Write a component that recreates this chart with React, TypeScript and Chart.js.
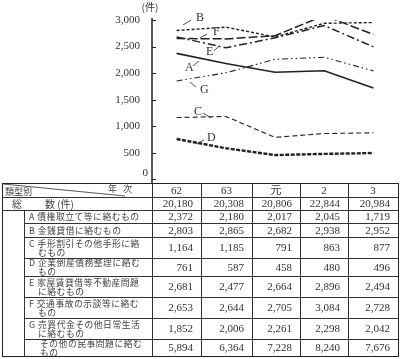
import React, { useEffect, useRef } from 'react';
import { Chart, registerables } from 'chart.js';
Chart.register(...registerables);

const years = ['62', '63', '元', '2', '3'];
const totals = [20180, 20308, 20806, 22844, 20984];
const seriesA = [2372, 2180, 2017, 2045, 1719];
const seriesB = [2803, 2865, 2682, 2938, 2952];
const seriesC = [1164, 1185, 791, 863, 877];
const seriesD = [761, 587, 458, 480, 496];
const seriesE = [2681, 2477, 2664, 2896, 2494];
const seriesF = [2653, 2644, 2705, 3084, 2728];
const seriesG = [1852, 2006, 2261, 2298, 2042];
const others = [5894, 6364, 7228, 8240, 7676];
const yTicks = [0, 500, 1000, 1500, 2000, 2500, 3000];

const rowLabels: string[][] = [
  ['A 債権取立て等に絡むもの'],
  ['B 金銭貸借に絡むもの'],
  ['C 手形割引その他手形に絡', 'むもの'],
  ['D 企業倒産債務整理に絡む', 'もの'],
  ['E 家屋賃貸借等不動産問題', 'に絡むもの'],
  ['F 交通事故の示談等に絡む', 'もの'],
  ['G 売買代金その他日常生活', 'に絡むもの'],
  ['その他の民事問題に絡む', 'もの'],
];
const rowValues = [seriesA, seriesB, seriesC, seriesD, seriesE, seriesF, seriesG, others];

const INK = '#222';
const SERIF = '"Liberation Serif", "DejaVu Serif", serif';
const CJK = '"Noto Sans CJK JP", "Noto Sans CJK SC", sans-serif';

const labelNotes = [
  { t: 'B', x: 196, y: 18, l: [191, 20, 183, 25] },
  { t: 'F', x: 213, y: 32, l: [207, 34, 200, 38] },
  { t: 'E', x: 206, y: 52, l: [214, 51, 219, 46] },
  { t: 'A', x: 185, y: 68, l: [193, 66, 199, 61] },
  { t: 'G', x: 200, y: 90, l: [196, 87, 190, 82] },
  { t: 'C', x: 194, y: 112, l: [203, 113, 211, 118] },
  { t: 'D', x: 207, y: 138, l: [204, 140, 196, 144] },
];

const decorPlugin = {
  id: 'decor',
  afterDraw(chart: any) {
    const ctx = chart.ctx;
    const ys = chart.scales.y;
    const left = chart.chartArea.left;
    ctx.save();
    ctx.strokeStyle = INK;
    ctx.lineWidth = 1.5;
    ctx.beginPath();
    ctx.moveTo(left, ys.getPixelForValue(3000) - 2);
    ctx.lineTo(left, chart.height);
    ctx.stroke();
    ctx.lineWidth = 1;
    yTicks.forEach((v) => {
      const y = Math.round(ys.getPixelForValue(v)) + 0.5;
      ctx.beginPath();
      ctx.moveTo(left, y);
      ctx.lineTo(left + 4, y);
      ctx.stroke();
    });
    ctx.fillStyle = '#333';
    ctx.font = `11px ${SERIF}`;
    ctx.textAlign = 'right';
    ctx.textBaseline = 'middle';
    ctx.fillText(String(yTicks[0]), left - 4, ys.getPixelForValue(yTicks[0]) - 6);
    ctx.font = `10px ${CJK}`;
    ctx.textAlign = 'center';
    ctx.fillText('(件)', left - 2, 7);
    ctx.font = `12px ${SERIF}`;
    ctx.textAlign = 'left';
    labelNotes.forEach((n) => {
      ctx.fillText(n.t, n.x, n.y);
      ctx.lineWidth = 0.8;
      ctx.beginPath();
      ctx.moveTo(n.l[0], n.l[1]);
      ctx.lineTo(n.l[2], n.l[3]);
      ctx.stroke();
    });
    ctx.restore();
  },
};

const colX = [3, 24, 152, 201, 252, 300, 348, 398];
const rowH = [13, 13, 13, 14, 21, 18, 21, 21, 21, 17];
const TOP = 184;

function HLine({ x1, x2, y, w = 1 }: { x1: number; x2: number; y: number; w?: number }) {
  return <div style={{ position: 'absolute', left: x1, top: y - w / 2, width: x2 - x1, height: w, background: '#333' }} />;
}
function VLine({ x, y1, y2, w = 1 }: { x: number; y1: number; y2: number; w?: number }) {
  return <div style={{ position: 'absolute', left: x - w / 2, top: y1, width: w, height: y2 - y1, background: '#333' }} />;
}

export default function App() {
  const ref = useRef<HTMLCanvasElement>(null);
  useEffect(() => {
    const chart = new Chart(ref.current!, {
      type: 'line',
      data: {
        labels: years,
        datasets: [
          { label: 'A', data: seriesA, borderColor: INK, borderWidth: 1.6, borderDash: [] },
          { label: 'B', data: seriesB, borderColor: INK, borderWidth: 1.4, borderDash: [3, 2] },
          { label: 'C', data: seriesC, borderColor: INK, borderWidth: 1.1, borderDash: [5, 3] },
          { label: 'D', data: seriesD, borderColor: INK, borderWidth: 2.4, borderDash: [4, 1.5] },
          { label: 'E', data: seriesE, borderColor: INK, borderWidth: 1.5, borderDash: [8, 3, 2, 3] },
          { label: 'F', data: seriesF, borderColor: INK, borderWidth: 1.5, borderDash: [9, 3] },
          { label: 'G', data: seriesG, borderColor: INK, borderWidth: 1.1, borderDash: [6, 3, 1.5, 3, 1.5, 3] },
        ].map((d) => ({ ...d, pointRadius: 0, fill: false, tension: 0 })),
      },
      options: {
        animation: false,
        responsive: false,
        layout: { padding: { top: 20, bottom: 8, left: 0, right: 5 } },
        plugins: { legend: { display: false }, tooltip: { enabled: false } },
        scales: {
          x: { type: 'category', offset: true, display: false },
          y: {
            min: 0,
            max: 3000,
            afterFit: (s: any) => { s.width = 152; },
            afterBuildTicks: (s: any) => { s.ticks = yTicks.map((v) => ({ value: v })); },
            ticks: {
              autoSkip: false,
              padding: 4,
              color: '#333',
              font: { family: SERIF, size: 11 },
              callback: (v: any) => (Number(v) === 0 ? '' : Number(v).toLocaleString('en-US')),
            },
            grid: { display: false },
            border: { display: false },
          },
        },
      },
      plugins: [decorPlugin],
    } as any);
    return () => chart.destroy();
  }, []);

  const rowTops: number[] = [];
  let acc = TOP;
  rowH.forEach((h) => { rowTops.push(acc); acc += h; });
  const bottom = acc;

  const numStyle = (i: number, top: number, h: number): React.CSSProperties => ({
    position: 'absolute', left: colX[i + 2], width: colX[i + 3] - colX[i + 2] - 8, top, height: h,
    lineHeight: `${h}px`, textAlign: 'right', fontFamily: SERIF, fontSize: 11, color: '#333',
  });

  return (
    <div style={{ position: 'absolute', left: 0, top: 0, width: 403, height: 359, background: '#fff', overflow: 'hidden' }}>
      <canvas ref={ref} width={403} height={190} style={{ position: 'absolute', left: 0, top: 0, width: 403, height: 190 }} />
      <div style={{ position: 'absolute', left: 0, top: TOP - 1, width: 403, height: 359 - TOP + 1, background: '#fff' }} />
      <svg width={149} height={13} style={{ position: 'absolute', left: 3, top: TOP }}>
        <line x1={0} y1={0} x2={122} y2={12} stroke="#444" strokeWidth={0.9} />
      </svg>
      <div style={{ position: 'absolute', left: 5, top: TOP + 3, fontFamily: CJK, fontSize: 9, lineHeight: '10px', color: '#444' }}>類型別</div>
      <div style={{ position: 'absolute', left: 108, top: TOP + 0, fontFamily: CJK, fontSize: 9, lineHeight: '10px', color: '#444', letterSpacing: 6 }}>年次</div>
      {years.map((y, i) => (
        <div key={y} style={{ position: 'absolute', left: colX[i + 2], width: colX[i + 3] - colX[i + 2], top: rowTops[0], height: rowH[0], lineHeight: `${rowH[0]}px`, textAlign: 'center', fontFamily: `${SERIF}, ${CJK}`, fontSize: 11, color: '#333' }}>{y}</div>
      ))}
      <div style={{ position: 'absolute', left: 12, top: rowTops[1], lineHeight: `${rowH[1]}px`, fontFamily: CJK, fontSize: 10, color: '#444' }}>総</div>
      <div style={{ position: 'absolute', left: 45, top: rowTops[1], lineHeight: `${rowH[1]}px`, fontFamily: CJK, fontSize: 10, color: '#444' }}>数 (件)</div>
      {totals.map((v, i) => (
        <div key={i} style={numStyle(i, rowTops[1], rowH[1])}>{v.toLocaleString('en-US')}</div>
      ))}
      {rowLabels.map((lines, r) => {
        const top = rowTops[r + 2];
        const h = rowH[r + 2];
        const indent = r === 7 ? 40 : 29;
        const textTop = lines.length === 1 ? top + (h - 9) / 2 : top + (h - 18) / 2;
        return (
          <React.Fragment key={r}>
            <div style={{ position: 'absolute', left: indent, top: textTop, fontFamily: CJK, fontSize: 8.8, lineHeight: '9px', color: '#444', letterSpacing: 0.5, whiteSpace: 'nowrap' }}>
              {lines[0]}
              {lines[1] ? <><br /><span style={{ paddingLeft: r === 7 ? 0 : 9 }}>{lines[1]}</span></> : null}
            </div>
            {rowValues[r].map((v, i) => (
              <div key={i} style={numStyle(i, top, h)}>{v.toLocaleString('en-US')}</div>
            ))}
          </React.Fragment>
        );
      })}
      <HLine x1={3} x2={398} y={rowTops[1]} />
      <HLine x1={3} x2={398} y={rowTops[2]} />
      {rowTops.slice(3).map((t, i) => <HLine key={i} x1={24} x2={398} y={t} />)}
      {colX.slice(2, 7).map((x, i) => <VLine key={i} x={x} y1={TOP} y2={bottom} />)}
      <VLine x={24} y1={rowTops[2]} y2={bottom} />
      <div style={{ position: 'absolute', left: 2, top: TOP - 1, width: 397, height: bottom - TOP + 2, border: '1.5px solid #222', boxSizing: 'border-box' }} />
    </div>
  );
}
